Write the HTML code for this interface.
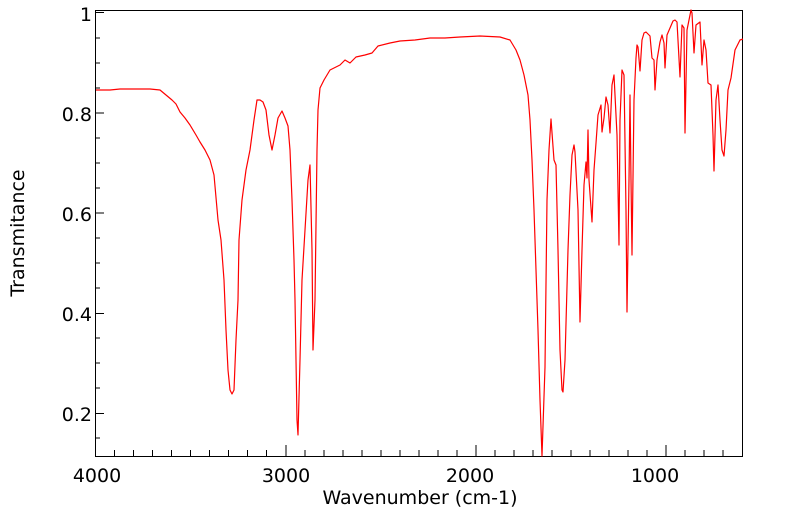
<!DOCTYPE html>
<html><head><style>body{margin:0;background:#fff}svg{display:block}text{font-family:"DejaVu Sans","Liberation Sans",sans-serif;fill:#000}</style></head>
<body>
<svg width="799" height="516" viewBox="0 0 799 516">
<rect x="95.5" y="10.5" width="647" height="446" fill="none" stroke="#000" stroke-width="1"/>
<g stroke="#000" stroke-width="1">
<line x1="95" y1="12.5" x2="104" y2="12.5"/><line x1="95" y1="113" x2="104" y2="113"/><line x1="95" y1="213" x2="104" y2="213"/><line x1="95" y1="313.5" x2="104" y2="313.5"/><line x1="95" y1="413.5" x2="104" y2="413.5"/>
<line x1="95" y1="38" x2="100" y2="38"/><line x1="95" y1="63" x2="100" y2="63"/><line x1="95" y1="88" x2="100" y2="88"/><line x1="95" y1="138" x2="100" y2="138"/><line x1="95" y1="163" x2="100" y2="163"/><line x1="95" y1="188" x2="100" y2="188"/><line x1="95" y1="238" x2="100" y2="238"/><line x1="95" y1="263" x2="100" y2="263"/><line x1="95" y1="288" x2="100" y2="288"/><line x1="95" y1="338" x2="100" y2="338"/><line x1="95" y1="363" x2="100" y2="363"/><line x1="95" y1="388" x2="100" y2="388"/><line x1="95" y1="438" x2="100" y2="438"/>
</g>
<text x="92" y="21" font-size="19" text-anchor="end">1</text>
<text x="92" y="121" font-size="19" text-anchor="end">0.8</text>
<text x="92" y="221" font-size="19" text-anchor="end">0.6</text>
<text x="92" y="321" font-size="19" text-anchor="end">0.4</text>
<text x="92" y="421" font-size="19" text-anchor="end">0.2</text>
<text x="97" y="482" font-size="19" text-anchor="middle">4000</text>
<text x="286" y="482" font-size="19" text-anchor="middle">3000</text>
<text x="470" y="482" font-size="19" text-anchor="middle">2000</text>
<text x="655" y="482" font-size="19" text-anchor="middle">1000</text>
<text x="420" y="504" font-size="19" text-anchor="middle">Wavenumber (cm-1)</text>
<text transform="translate(24,233) rotate(-90)" font-size="19" text-anchor="middle">Transmitance</text>
<polyline fill="none" stroke="#ff0000" stroke-width="1.2" stroke-linejoin="round" points="96,90 110,90 120,89 130,89 150,89 160,90 166,95 172,100 176,104 180,112 185,118 190,125 196,135 200,142 205,150 210,160 214,175 218,220 221,240 224,280 226,330 228,370 230,390 232,394 234,390 236,340 238,300 239,240 242,200 246,170 250,150 254,120 257,100 260,100 263,102 266,110 269,135 272,150 275,135 278,118 282,111 285,118 288,126 290,150 292,200 294,260 295,300 297,420 298,435 300,360 302,280 305,230 308,180 310,165 312,250 313,350 315,300 317,150 318,110 320,88 324,80 330,70 340,65 345,60 350,63 356,57 365,55 372,53 378,46 390,43 400,41 415,40 430,38 445,38 460,37 480,36 500,37 510,40 516,50 520,60 524,75 528,95 530,120 532,160 534,210 536,270 538,330 540,400 542,456 545,367 547,200 549,150 551,119 554,160 556,165 558,250 560,350 562,390 563,392 565,360 568,250 570,195 572,155 574,145 575,152 578,210 580,322 582,250 584,185 586,162 587,178 588,130 589,180 592,222 594,170 596,143 598,115 601,105 602,132 604,118 606,97 608,105 610,133 612,85 614,75 617,135 619,245 620,120 622,70 624,75 626,210 627,312 629,180 630,95 631,180 632,255 634,100 636,58 637,45 638,47 640,71 642,40 644,33 646,32 650,36 652,58 654,60 655,90 657,60 660,42 662,35 664,43 665,68 667,35 670,28 673,21 675,20 677,22 680,77 682,25 684,28 685,133 687,30 691,10 692,13 694,53 696,25 700,22 702,65 704,40 706,50 708,83 711,85 713,135 714,171 716,100 718,85 720,120 722,150 724,156 726,130 728,90 731,78 735,50 740,40 743,39"/>
<g stroke="#000" stroke-width="1">
<line x1="95.5" y1="456" x2="95.5" y2="445"/><line x1="286" y1="456" x2="286" y2="445"/><line x1="476" y1="456" x2="476" y2="445"/><line x1="666" y1="456" x2="666" y2="445"/>
<line x1="114.5" y1="456" x2="114.5" y2="450"/><line x1="133.5" y1="456" x2="133.5" y2="450"/><line x1="152.5" y1="456" x2="152.5" y2="450"/><line x1="171.5" y1="456" x2="171.5" y2="450"/><line x1="190.5" y1="456" x2="190.5" y2="450"/><line x1="209.5" y1="456" x2="209.5" y2="450"/><line x1="228.5" y1="456" x2="228.5" y2="450"/><line x1="247.5" y1="456" x2="247.5" y2="450"/><line x1="266.5" y1="456" x2="266.5" y2="450"/>
<line x1="305" y1="456" x2="305" y2="450"/><line x1="324" y1="456" x2="324" y2="450"/><line x1="343" y1="456" x2="343" y2="450"/><line x1="362" y1="456" x2="362" y2="450"/><line x1="381" y1="456" x2="381" y2="450"/><line x1="400" y1="456" x2="400" y2="450"/><line x1="419" y1="456" x2="419" y2="450"/><line x1="438" y1="456" x2="438" y2="450"/><line x1="457" y1="456" x2="457" y2="450"/>
<line x1="495" y1="456" x2="495" y2="450"/><line x1="514" y1="456" x2="514" y2="450"/><line x1="533" y1="456" x2="533" y2="450"/><line x1="552" y1="456" x2="552" y2="450"/><line x1="571" y1="456" x2="571" y2="450"/><line x1="590" y1="456" x2="590" y2="450"/><line x1="609" y1="456" x2="609" y2="450"/><line x1="628" y1="456" x2="628" y2="450"/><line x1="647" y1="456" x2="647" y2="450"/>
<line x1="685" y1="456" x2="685" y2="450"/><line x1="704" y1="456" x2="704" y2="450"/><line x1="723" y1="456" x2="723" y2="450"/>
</g>
</svg>
</body></html>
